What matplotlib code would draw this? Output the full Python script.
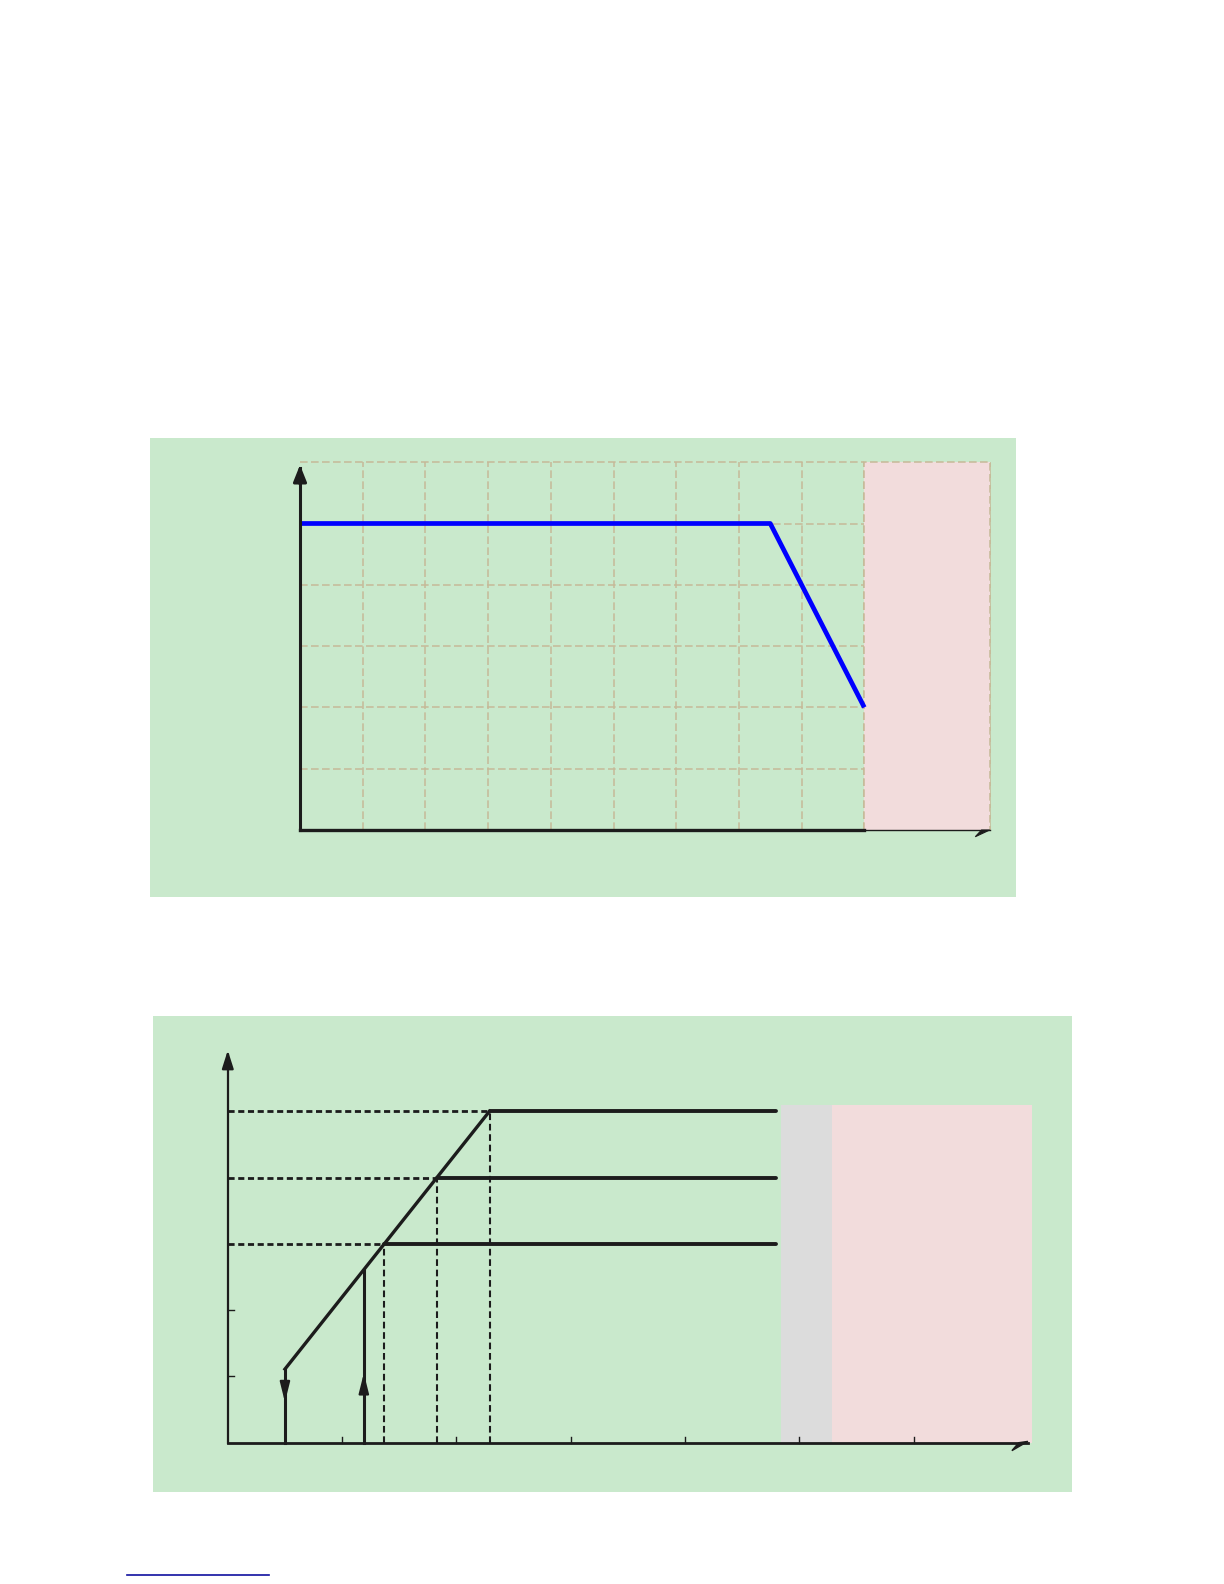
import matplotlib.pyplot as plt
from matplotlib.lines import Line2D
from matplotlib.patches import Rectangle, Polygon

W, H = 1224, 1584

# ---- top chart data ----
top_x = [0, 7.5, 9]
top_y = [5, 5, 2]
top_grid_x = [1, 2, 3, 4, 5, 6, 7, 8, 9, 11]
top_grid_y = [1, 2, 3, 4, 5, 6]
top_zone = (9, 11)

# ---- bottom chart data ----
ramp_x = [0.5, 2.29]
ramp_y = [1.11, 5.0]
levels = [3, 4, 5]
level_knee_x = [1.37, 1.83, 2.29]
plateau_end = 4.8
down_x, down_top, down_tip = 0.5, 1.11, 0.57
up_x, up_top, up_tip = 1.19, 2.60, 1.09
bot_xticks = [1, 2, 3, 4, 5, 6]
bot_yticks = [1, 2]
grey_zone = (4.84, 5.29)
pink_zone = (5.29, 7.04)
zone_top = 5.10

GREEN = '#c9e9cc'
PINK = '#f2dcdc'
GREY = '#dcdcdc'
GRID = '#c6b998'
INK = '#1c1c1c'


def panel(px0, py0, px1, py1, ox, oy, ux, uy):
    """axes covering a pixel box, data origin at (ox, oy) px with unit sizes"""
    ax = fig.add_axes([px0 / W, 1 - py1 / H, (px1 - px0) / W, (py1 - py0) / H])
    ax.set_xlim((px0 - ox) / ux, (px1 - ox) / ux)
    ax.set_ylim((oy - py1) / uy, (oy - py0) / uy)
    ax.set_facecolor(GREEN)
    ax.set_axis_off()
    ax.add_patch(Rectangle((0, 0), 1, 1, transform=ax.transAxes,
                           facecolor=GREEN, edgecolor='none', zorder=0))
    return ax


fig = plt.figure(figsize=(W / 100, H / 100), dpi=100)
fig.patch.set_facecolor('white')

# ===== top chart =====
ax = panel(150, 437.7, 1015.7, 897, 300, 830, 62.7, 61.3)
gkw = dict(color=GRID, lw=1.1, dashes=(5, 2.2))
for gx in top_grid_x:
    ax.plot([gx, gx], [0, 6], zorder=1, **gkw)
for gy in top_grid_y:
    ax.plot([0, top_zone[0]], [gy, gy], zorder=1, **gkw)
ax.add_patch(Rectangle((top_zone[0], 0), top_zone[1] - top_zone[0], 6,
                       facecolor=PINK, edgecolor='none', zorder=2))
ax.plot([top_zone[0], top_zone[0], top_zone[1], top_zone[1]], [0, 6, 6, 0],
        zorder=3, **gkw)
ax.plot(top_x, top_y, color='#0000ff', lw=3.4, zorder=5, solid_capstyle='butt')
# axes
ax.plot([0, 0], [0, 5.9], color=INK, lw=2.2, zorder=6)
ax.annotate('', xy=(0, 6.0), xytext=(0, 5.6),
            arrowprops=dict(arrowstyle='-|>,head_length=1.0,head_width=0.4',
                            color=INK, lw=2.2), zorder=6)
ax.plot([0, top_zone[0]], [0, 0], color=INK, lw=2.4, zorder=6)
ax.plot([top_zone[0], 11.0], [0, 0], color=INK, lw=1.0, zorder=6)
ax.add_patch(Polygon([(11.0, 0), (10.77, -0.11), (10.87, 0)], closed=True,
                     facecolor=INK, edgecolor=INK, lw=0.8, zorder=6))

# ===== bottom chart =====
bx = panel(153, 1015.7, 1071.7, 1491.7, 227.8, 1442.7, 114.3, 66.3)
bx.add_patch(Rectangle((grey_zone[0], 0), grey_zone[1] - grey_zone[0], zone_top,
                       facecolor=GREY, edgecolor='none', zorder=1))
bx.add_patch(Rectangle((pink_zone[0], 0), pink_zone[1] - pink_zone[0], zone_top,
                       facecolor=PINK, edgecolor='none', zorder=1))
hkw = dict(color=INK, lw=2.0, dashes=(2.2, 1.3), zorder=3)
vkw = dict(color=INK, lw=1.5, dashes=(3.2, 1.8), zorder=3)
for lv, kx in zip(levels, level_knee_x):
    bx.plot([0, kx], [lv, lv], **hkw)
    bx.plot([kx, kx], [0, lv], **vkw)
    bx.plot([kx, plateau_end], [lv, lv], color=INK, lw=2.8, zorder=4,
            solid_capstyle='round')
bx.plot([down_x] + ramp_x, [down_top] + ramp_y, color=INK, lw=2.4, zorder=4,
        solid_joinstyle='miter')
bx.plot([down_x, down_x], [0, down_top], color=INK, lw=2.2, zorder=4)
bx.plot([up_x, up_x], [0, up_top], color=INK, lw=2.2, zorder=4)
akw = dict(arrowstyle='-|>,head_length=1.2,head_width=0.3', color=INK, lw=1.6)
bx.annotate('', xy=(down_x, down_tip), xytext=(down_x, down_tip + 0.3),
            arrowprops=akw, zorder=5)
bx.annotate('', xy=(up_x, up_tip), xytext=(up_x, up_tip - 0.3),
            arrowprops=akw, zorder=5)
# axes
bx.plot([0, 0], [0, 5.85], color=INK, lw=1.6, zorder=6)
bx.annotate('', xy=(0, 5.96), xytext=(0, 5.6),
            arrowprops=dict(arrowstyle='-|>,head_length=1.1,head_width=0.35',
                            color=INK, lw=1.6), zorder=6)
bx.plot([0, 7.0], [0, 0], color=INK, lw=2.0, zorder=6)
bx.add_patch(Polygon([(7.0, 0.02), (6.86, -0.12), (6.92, 0.0)], closed=True,
                     facecolor=INK, edgecolor=INK, lw=1.0, zorder=6))
for tx in bot_xticks:
    bx.plot([tx, tx], [0, 0.09], color=INK, lw=1.0, zorder=6)
for ty in bot_yticks:
    bx.plot([0, 0.05], [ty, ty], color=INK, lw=1.0, zorder=6)

# footnote link underline
fig.add_artist(Line2D([127 / W, 269 / W], [1 - 1575 / H, 1 - 1575 / H],
                      color='#1010a0', lw=1.2))

fig.savefig('out.png', dpi=100, facecolor='white')
